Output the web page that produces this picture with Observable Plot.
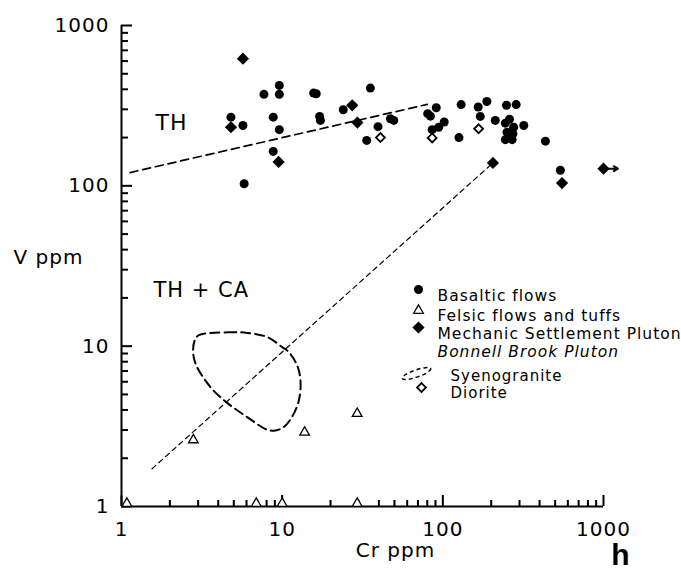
<!DOCTYPE html>
<html><head><meta charset="utf-8">
<script src="https://cdn.jsdelivr.net/npm/d3@7"></script>
<script src="https://cdn.jsdelivr.net/npm/@observablehq/plot@0.6"></script>
<style>body{margin:0;background:#fff;}</style>
</head><body><div id="chart"></div>
<script>
// [Cr ppm, V ppm]
const basaltic = [
  [9.6,423],[9.6,372],[7.7,372],[15.7,379],[16.3,375],[35.4,407],[4.8,268],[5.7,238],
  [8.8,268],[9.6,224],[17.1,271],[17.3,256],[24.0,298],[8.8,164],[5.8,103],[33.6,192],
  [39.5,234],[47.2,262],[49.5,256],[91,307],[80.5,282],[83.7,272],[85.8,224],[94.3,232],
  [102,250],[126,200],[130,321],[166,310],[188,336],[171,271],[212,256],[249,318],
  [286,321],[260,260],[245,246],[276,232],[251,216],[273,211],[245,194],[270,194],
  [258,203],[319,238],[435,190],[539,125]
];
const mechanic = [[5.7,621],[4.8,232],[9.5,141],[27.3,318],[29.4,248],[205,139],[552,104],[1000,128]];
const mechanicArrow = [[1000,128,1230,128]];
const diorite = [[40.9,200],[85.8,199],[167,227]];
const felsic = [[2.8,2.6],[13.8,2.9],[29.3,3.8]];
const felsicAtOne = [[1.08,1],[6.9,1],[10,1],[29.3,1]];
const syenogranite = [
  [3.03,11.7],[4.55,12.2],[6.06,12.1],[8.07,11.4],[10.0,9.86],[11.0,9.18],[12.4,7.58],
  [13.0,6.11],[12.7,4.58],[11.5,3.61],[10.2,3.12],[9.08,2.98],[8.07,3.01],[6.06,3.61],
  [4.55,4.43],[3.58,5.55],[2.89,7.77],[2.79,9.40],[2.86,10.9]
];
const thLine = [[1.13,121],[80,322]];
const steepLine = [[1.55,1.72],[205,139]];
const majorTicks = [1,10,100,1000];
const minorTicks = [2,3,4,5,6,7,8,9,20,30,40,50,60,70,80,90,200,300,400,500,600,700,800,900];
const annotations = [{Cr:1.63, V:245, label:"TH", size:22},{Cr:1.58, V:22.3, label:"TH + CA", size:21}];

const X = d => d[0], Y = d => d[1];
const ellipseSymbol = {
  draw(ctx, size) {
    const a = 15, b = 3.6, k = 0.5523;
    ctx.moveTo(a, 0);
    ctx.bezierCurveTo(a, k*b, k*a, b, 0, b);
    ctx.bezierCurveTo(-k*a, b, -a, k*b, -a, 0);
    ctx.bezierCurveTo(-a, -k*b, -k*a, -b, 0, -b);
    ctx.bezierCurveTo(k*a, -b, a, -k*b, a, 0);
    ctx.closePath();
  }
};
const W = 681, H = 571, ML = 121, MR = 78, MT = 25, MB = 65;
const FW = W - ML - MR, FH = H - MT - MB;
const lg = {frameAnchor: "top-left"};

const plot = Plot.plot({
  width: W, height: H,
  marginLeft: ML, marginRight: MR, marginTop: MT, marginBottom: MB,
  style: {fontFamily: "DejaVu Sans", fontSize: "20px", background: "white", color: "black", letterSpacing: "1px", overflow: "visible"},
  x: {type: "log", domain: [1, 1000]},
  y: {type: "log", domain: [1, 1000]},
  marks: [
    // inward ticks
    Plot.tickX(minorTicks, {x: d => d, insetTop: FH - 6, stroke: "black", strokeWidth: 2}),
    Plot.tickX(majorTicks, {x: d => d, insetTop: FH - 11, stroke: "black", strokeWidth: 2}),
    Plot.tickY(minorTicks, {y: d => d, insetRight: FW - 7, stroke: "black", strokeWidth: 2}),
    Plot.tickY(majorTicks, {y: d => d, insetRight: FW - 11, stroke: "black", strokeWidth: 2}),
    Plot.axisX({ticks: majorTicks, tickSize: 0, tickPadding: 15, tickFormat: d => String(d), label: null, fontSize: 20}),
    Plot.axisY({ticks: majorTicks, tickSize: 0, tickPadding: 12, tickFormat: d => String(d), label: null, fontSize: 20}),
    Plot.ruleX([1], {strokeWidth: 2}),
    Plot.ruleY([1], {strokeWidth: 2}),
    Plot.line(thLine, {x: X, y: Y, stroke: "black", strokeWidth: 1.7, strokeDasharray: "8,5"}),
    Plot.line(steepLine, {x: X, y: Y, stroke: "black", strokeWidth: 1.2, strokeDasharray: "5,4"}),
    Plot.line(syenogranite, {x: X, y: Y, curve: "catmull-rom-closed", stroke: "black", strokeWidth: 2, strokeDasharray: "9,5"}),
    Plot.dot(basaltic, {x: X, y: Y, r: 4.5, fill: "black"}),
    Plot.arrow(mechanicArrow, {x1: d => d[0], y1: d => d[1], x2: d => d[2], y2: d => d[3], stroke: "black", strokeWidth: 2, headLength: 6}),
    Plot.dot(mechanic, {x: X, y: Y, symbol: "diamond2", r: 5.5, fill: "black"}),
    Plot.dot(diorite, {x: X, y: Y, symbol: "diamond2", r: 4, fill: "white", stroke: "black", strokeWidth: 1.8}),
    Plot.dot(felsic, {x: X, y: Y, symbol: "triangle", r: 3.6, fill: "white", stroke: "black", strokeWidth: 1.3}),
    Plot.dot(felsicAtOne, {x: X, y: Y, dy: -3, symbol: "triangle", r: 3.6, fill: "white", stroke: "black", strokeWidth: 1.3}),
    Plot.text(annotations, {x: "Cr", y: "V", text: "label", fontSize: d => d.size, textAnchor: "start"}),
    // axis titles
    Plot.text(["V ppm"], {frameAnchor: "left", dx: -108, dy: -8, textAnchor: "start", fontSize: 20}),
    Plot.text(["Cr ppm"], {frameAnchor: "bottom", dx: 33, dy: 50, fontSize: 20}),
    Plot.text(["h"], {frameAnchor: "bottom-right", dx: 27, dy: 58, fontSize: 30, fontWeight: "bold", fontFamily: "Liberation Sans"}),
    // legend
    Plot.dot([0], {...lg, dx: 297, dy: 264, r: 4.5, fill: "black"}),
    Plot.dot([0], {...lg, dx: 297, dy: 285, symbol: "triangle", r: 3.6, fill: "white", stroke: "black", strokeWidth: 1.3}),
    Plot.dot([0], {...lg, dx: 297, dy: 302, symbol: "diamond2", r: 5.5, fill: "black"}),
    Plot.dot([0], {...lg, dx: 295, dy: 348, symbol: ellipseSymbol, rotate: -19, fill: "none", stroke: "black", strokeWidth: 1.5, strokeDasharray: "4,3"}),
    Plot.dot([0], {...lg, dx: 300, dy: 362, symbol: "diamond2", r: 4, fill: "white", stroke: "black", strokeWidth: 1.8}),
    Plot.text(["Basaltic flows"], {...lg, dx: 316, dy: 264, textAnchor: "start", fontSize: 15.5}),
    Plot.text(["Felsic flows and tuffs"], {...lg, dx: 316, dy: 284, textAnchor: "start", fontSize: 15.5}),
    Plot.text(["Mechanic Settlement Pluton"], {...lg, dx: 316, dy: 302, textAnchor: "start", fontSize: 15.5}),
    Plot.text(["Bonnell Brook Pluton"], {...lg, dx: 316, dy: 320, textAnchor: "start", fontSize: 15.5, fontStyle: "italic"}),
    Plot.text(["Syenogranite"], {...lg, dx: 329, dy: 345, textAnchor: "start", fontSize: 15}),
    Plot.text(["Diorite"], {...lg, dx: 329, dy: 362, textAnchor: "start", fontSize: 15})
  ]
});
document.getElementById("chart").append(plot);
</script>
</body></html>
